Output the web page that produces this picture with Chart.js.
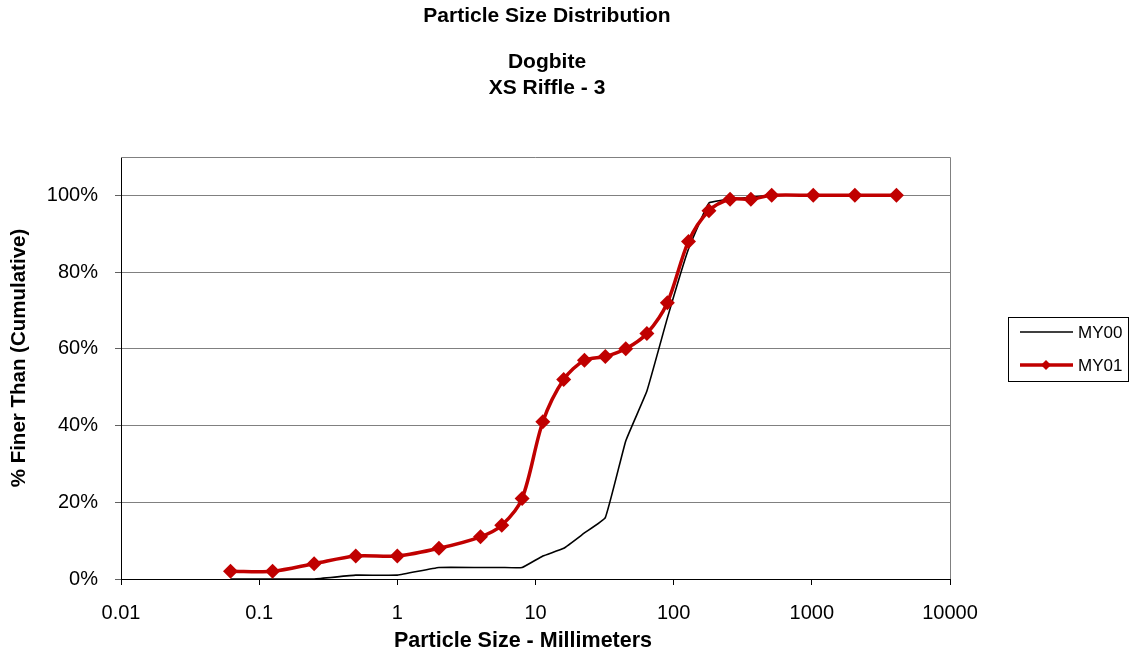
<!DOCTYPE html>
<html>
<head>
<meta charset="utf-8">
<title>Particle Size Distribution</title>
<script src="https://cdn.jsdelivr.net/npm/chart.js@4/dist/chart.umd.min.js"></script>
<style>
  html, body { margin: 0; padding: 0; background: #fff; }
  #wrap { width: 1134px; height: 657px; position: relative; }
</style>
</head>
<body>
<div id="wrap"><canvas id="psd"></canvas></div>
<script>
// sieve sizes in mm (x values, log axis)
var sizes = [0.062, 0.125, 0.25, 0.5, 1, 2, 4, 5.7, 8, 11.3, 16, 22.6, 32, 45, 64, 90, 128, 180, 256, 362, 512, 1024, 2048, 4096];
// cumulative % finer
var my00 = [0, 0, 0, 1, 1, 3, 3, 3, 3, 6, 8, 12, 16, 36, 49, 68, 86, 98, 99, 99.5, 100, 100, 100, 100];
var my01 = [2, 2, 4, 6, 6, 8, 11, 14, 21, 41, 52, 57, 58, 60, 64, 72, 88, 96, 99, 99, 100, 100, 100, 100];
var seriesNames = ["MY00", "MY01"];
var xTicks = [0.01, 0.1, 1, 10, 100, 1000, 10000];
var xTickLabels = ["0.01", "0.1", "1", "10", "100", "1000", "10000"];
var yTicks = [0, 20, 40, 60, 80, 100];
var titleLines = ["Particle Size Distribution", "", "Dogbite", "XS Riffle - 3"];
var xTitle = "Particle Size - Millimeters";
var yTitle = "% Finer Than (Cumulative)";

var FONT = "'Liberation Sans', Arial, Helvetica, sans-serif";
var RED = "#c00000";

function toPoints(vals) {
  return sizes.map(function (s, i) { return { x: s, y: vals[i] }; });
}

// titles, axis titles, plot frame and legend are drawn by hand, Excel style
var excelBits = {
  id: "excelBits",
  afterDraw: function (chart) {
    var ctx = chart.ctx, a = chart.chartArea;
    ctx.save();

    // gray frame on top and right of plot
    ctx.strokeStyle = "#808080";
    ctx.lineWidth = 1;
    ctx.beginPath();
    ctx.moveTo(a.left, a.top + 0.5);
    ctx.lineTo(a.right + 0.5, a.top + 0.5);
    ctx.lineTo(a.right + 0.5, a.bottom);
    ctx.stroke();

    // title block
    ctx.fillStyle = "#000";
    ctx.font = "bold 21px " + FONT;
    ctx.textAlign = "center";
    ctx.textBaseline = "middle";
    var ys = [16, 39, 62, 88];
    titleLines.forEach(function (t, i) {
      if (t) ctx.fillText(t, 547, ys[i]);
    });

    // axis titles
    ctx.font = "bold 21.5px " + FONT;
    ctx.fillText(xTitle, 523, 641);
    ctx.save();
    ctx.translate(19, 358);
    ctx.rotate(-Math.PI / 2);
    ctx.font = "bold 20.5px " + FONT;
    ctx.fillText(yTitle, 0, 0);
    ctx.restore();

    // legend
    var lx = 1008, ly = 317, lw = 120, lh = 64;
    ctx.strokeStyle = "#000";
    ctx.lineWidth = 1;
    ctx.strokeRect(lx + 0.5, ly + 0.5, lw, lh);
    ctx.font = "17px " + FONT;
    ctx.textAlign = "left";
    chart.data.datasets.slice().sort(function (p, q) {
      return seriesNames.indexOf(p.label) - seriesNames.indexOf(q.label);
    }).forEach(function (ds, i) {
      var y = ly + 15 + i * 33;
      ctx.strokeStyle = ds.borderColor;
      ctx.lineWidth = ds.borderWidth;
      ctx.beginPath();
      ctx.moveTo(lx + 12, y);
      ctx.lineTo(lx + 65, y);
      ctx.stroke();
      if (ds.pointRadius > 0) {
        ctx.fillStyle = ds.pointBackgroundColor;
        ctx.beginPath();
        ctx.moveTo(lx + 38, y - 5);
        ctx.lineTo(lx + 43, y);
        ctx.lineTo(lx + 38, y + 5);
        ctx.lineTo(lx + 33, y);
        ctx.closePath();
        ctx.fill();
      }
      ctx.fillStyle = "#000";
      ctx.fillText(ds.label, lx + 70, y + 1);
    });
    ctx.restore();
  }
};

new Chart(document.getElementById("psd"), {
  type: "line",
  data: {
    datasets: [
      {
        label: seriesNames[0],
        data: toPoints(my00),
        borderColor: "#000",
        borderWidth: 1.6,
        pointRadius: 0,
        tension: 0.1,
        order: 1
      },
      {
        label: seriesNames[1],
        data: toPoints(my01),
        borderColor: RED,
        backgroundColor: RED,
        pointBackgroundColor: RED,
        pointBorderColor: RED,
        borderWidth: 3.5,
        pointStyle: "rectRot",
        pointRadius: 7.5,
        pointBorderWidth: 0,
        tension: 0.3,
        order: 0
      }
    ]
  },
  options: {
    responsive: true,
    maintainAspectRatio: false,
    animation: false,
    layout: { padding: { top: 157, right: 184, bottom: 0, left: 0 } },
    plugins: {
      legend: { display: false },
      title: { display: false },
      tooltip: { enabled: false }
    },
    scales: {
      x: {
        type: "logarithmic",
        min: 0.01,
        max: 10000,
        afterBuildTicks: function (scale) {
          scale.ticks = xTicks.map(function (v) { return { value: v }; });
        },
        afterFit: function (scale) { scale.height = 78; },
        border: { color: "#000", width: 1 },
        grid: { drawOnChartArea: false, drawTicks: true, tickLength: 6, tickColor: "#000" },
        ticks: {
          autoSkip: false,
          maxRotation: 0,
          padding: 16,
          color: "#000",
          font: { family: FONT, size: 20 },
          callback: function (v) {
            var i = xTicks.indexOf(v);
            return i >= 0 ? xTickLabels[i] : "";
          }
        },
        title: { display: false }
      },
      y: {
        min: 0,
        max: 110,
        afterBuildTicks: function (scale) {
          scale.ticks = yTicks.map(function (v) { return { value: v }; });
        },
        afterFit: function (scale) { scale.width = 121; },
        border: { color: "#000", width: 1 },
        grid: { color: "#808080", lineWidth: 1, tickLength: 6, tickColor: "#606060" },
        ticks: {
          padding: 17,
          color: "#000",
          font: { family: FONT, size: 20 },
          callback: function (v) { return v + "%"; }
        },
        title: { display: false }
      }
    }
  },
  plugins: [excelBits]
});
</script>
</body>
</html>
